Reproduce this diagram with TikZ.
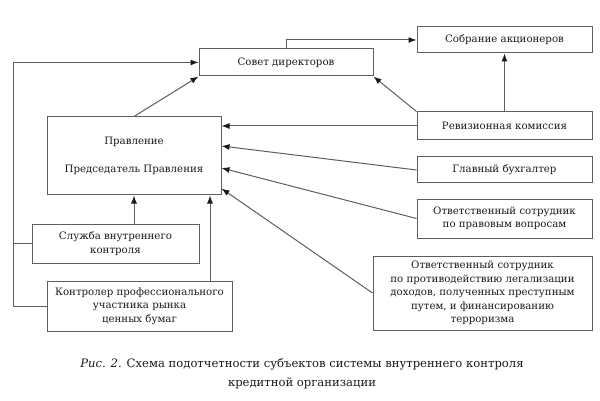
\documentclass[tikz,border=0pt]{standalone}
\usepackage{fontspec}
\setmainfont{DejaVu Serif}
\usetikzlibrary{arrows.meta}
\definecolor{ink}{HTML}{1A1A1A}
\definecolor{rule}{HTML}{5E5E5E}
\begin{document}
\begin{tikzpicture}[x=1pt,y=-1pt,
  box/.style={draw=rule,line width=1pt,inner sep=0pt,align=center,text=ink,
    font=\fontsize{10.2}{13.5}\selectfont},
  arr/.style={draw=rule,line width=1pt,-{Latex[length=8pt,width=6pt,color=ink]}},
  link/.style={draw=rule,line width=1pt}]
\useasboundingbox (0,0) rectangle (600,401);
\node[box,minimum width=174,minimum height=27] (sovet) at (286,62.5) {Совет директоров};
\node[box,minimum width=175,minimum height=26] (sobranie) at (504.5,40) {Собрание акционеров};
\node[box,minimum width=174,minimum height=78] (pravlenie) at (134,156) {Правление\\[15pt]Председатель Правления};
\node[box,minimum width=175,minimum height=28] (reviz) at (504.5,126) {Ревизионная комиссия};
\node[box,minimum width=175,minimum height=26] (buh) at (504.5,170) {Главный бухгалтер};
\node[box,minimum width=175,minimum height=39] (pravo) at (504.5,218.5) {Ответственный сотрудник\\по правовым вопросам};
\node[box,minimum width=219,minimum height=74] (legal) at (482.5,293) {Ответственный сотрудник\\по противодействию легализации\\доходов, полученных преступным\\путем, и финансированию\\терроризма};
\node[box,minimum width=167,minimum height=39] (sluzhba) at (115.5,243.5) {Служба внутреннего\\контроля};
\node[box,minimum width=185,minimum height=50] (kontroler) at (139.5,306) {Контролер профессионального\\участника рынка\\ценных бумаг};
\node[text=ink,align=center,font=\fontsize{11.6}{19}\selectfont] (caption) at (302,373.5)
  {\textit{Рис. 2.} Схема подотчетности субъектов системы внутреннего контроля\\кредитной организации};
\coordinate (rail) at (13,0);
\coordinate (kx) at (210,0);
\draw[arr] (kontroler.west) -- (kontroler.west -| rail) |- (sovet.west);
\draw[link] (sluzhba.west) -- (sluzhba.west -| rail);
\draw[arr] (pravlenie.north) -- (sovet.south west);
\draw[arr] (sovet.north) |- (sobranie.west);
\draw[arr] (reviz.north) -- (sobranie.south);
\draw[arr] (reviz.north west) -- (sovet.south east);
\draw[arr] (reviz.west) -- (reviz.west -| pravlenie.east);
\draw[arr] (buh.west) -- ([yshift=10pt]pravlenie.east);
\draw[arr] (pravo.west) -- ([yshift=-12pt]pravlenie.east);
\draw[arr] (legal.west) -- ([yshift=7pt]pravlenie.south east);
\draw[arr] (sluzhba.north -| pravlenie.south) -- (pravlenie.south);
\draw[arr] (kontroler.north -| kx) -- (pravlenie.south -| kx);
\end{tikzpicture}
\end{document}
